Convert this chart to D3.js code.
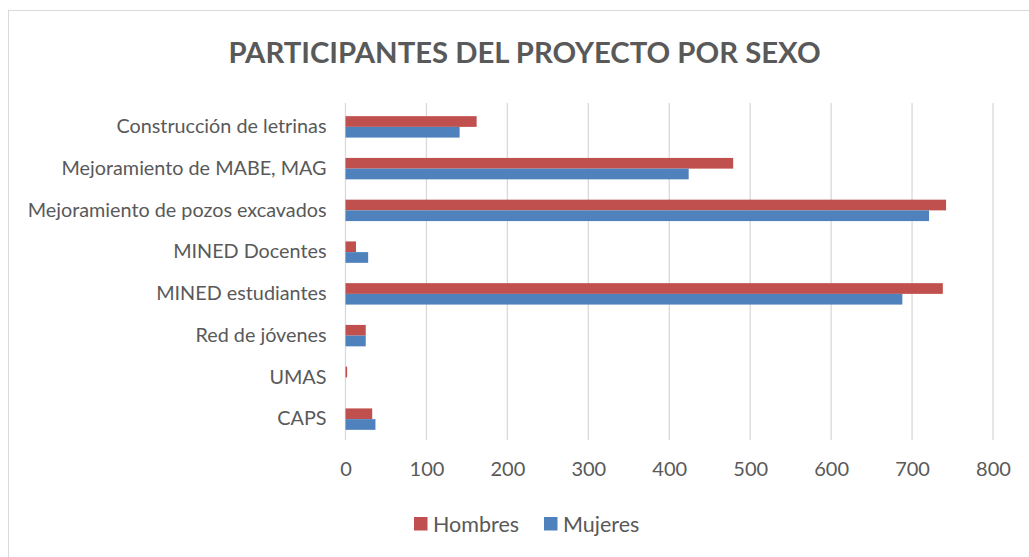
<!DOCTYPE html>
<html>
<head>
<meta charset="utf-8">
<script src="https://cdn.jsdelivr.net/npm/d3@7"></script>
<style>
  html, body { margin: 0; padding: 0; background: #fff; }
  svg { display: block; }
</style>
</head>
<body>
<svg id="chart" width="1029" height="557"></svg>
<script>
// ---- data ----
const title = "PARTICIPANTES DEL PROYECTO POR SEXO";
const categories = [
  "Construcción de letrinas",
  "Mejoramiento de MABE, MAG",
  "Mejoramiento de pozos excavados",
  "MINED Docentes",
  "MINED estudiantes",
  "Red de jóvenes",
  "UMAS",
  "CAPS"
];
const seriesNames = ["Hombres", "Mujeres"];
const hombres = [162, 479, 742, 13, 738, 25, 2, 33];
const mujeres = [141, 424, 721, 28, 688, 25, 0, 37];
const xTicks = [0, 100, 200, 300, 400, 500, 600, 700, 800];
const colors = ["#C0504D", "#4F81BD"];

// ---- layout ----
const svg = d3.select("#chart");
const font = "Lato, 'Open Sans', sans-serif";
const textColor = "#595959";

// chart frame
svg.append("rect")
  .attr("x", 8.5).attr("y", 10.5)
  .attr("width", 1100).attr("height", 600)
  .attr("fill", "#fff").attr("stroke", "#d9d9d9").attr("stroke-width", 1);

const plot = { left: 345.5, right: 993, top: 106, bottom: 440 };

const x = d3.scaleLinear().domain([0, 800]).range([plot.left, plot.right]);
const y = d3.scaleBand().domain(categories).range([plot.top, plot.bottom])
  .paddingInner(0.487).paddingOuter(0.2435);
const ySub = d3.scaleBand().domain(seriesNames).range([0, y.bandwidth()]);

// gridlines
svg.append("g")
  .selectAll("line")
  .data(xTicks)
  .join("line")
  .attr("x1", d => x(d)).attr("x2", d => x(d))
  .attr("y1", plot.top - 3).attr("y2", plot.bottom)
  .attr("stroke", "#d9d9d9").attr("stroke-width", 1.3);

// bars
const rows = categories.map((c, i) => ({ cat: c, vals: [hombres[i], mujeres[i]] }));
const grp = svg.append("g").selectAll("g")
  .data(rows).join("g")
  .attr("transform", d => `translate(0,${y(d.cat)})`);
grp.selectAll("rect")
  .data(d => d.vals.map((v, j) => ({ name: seriesNames[j], v, j })))
  .join("rect")
  .attr("x", x(0))
  .attr("y", d => ySub(d.name))
  .attr("width", d => x(d.v) - x(0))
  .attr("height", ySub.bandwidth())
  .attr("fill", d => colors[d.j]);

// x axis labels
const xAxis = d3.axisBottom(x).tickValues(xTicks).tickSize(0).tickPadding(22);
const gx = svg.append("g").attr("transform", `translate(0,${plot.bottom})`).call(xAxis);
gx.select(".domain").remove();
gx.selectAll("text")
  .attr("font-family", font).attr("font-size", 20).attr("fill", textColor);

// y axis labels
const yAxis = d3.axisLeft(y).tickSize(0).tickPadding(19);
const gy = svg.append("g").attr("transform", `translate(${plot.left},0)`).call(yAxis);
gy.select(".domain").remove();
gy.selectAll("text")
  .attr("font-family", font).attr("font-size", 19.8).attr("fill", textColor);

// title
svg.append("text")
  .attr("x", 524.5).attr("y", 63)
  .attr("text-anchor", "middle")
  .attr("font-family", font).attr("font-weight", "bold")
  .attr("font-size", 29.3).attr("fill", textColor)
  .text(title);

// legend
const legend = svg.append("g");
const legendItems = [
  { name: seriesNames[0], color: colors[0], x: 414 },
  { name: seriesNames[1], color: colors[1], x: 544 }
];
const li = legend.selectAll("g").data(legendItems).join("g")
  .attr("transform", d => `translate(${d.x},517)`);
li.append("rect").attr("width", 13.5).attr("height", 13.5).attr("fill", d => d.color);
li.append("text").attr("x", 19).attr("y", 14.5)
  .attr("font-family", font).attr("font-size", 21.5).attr("fill", textColor)
  .text(d => d.name);
</script>
</body>
</html>
